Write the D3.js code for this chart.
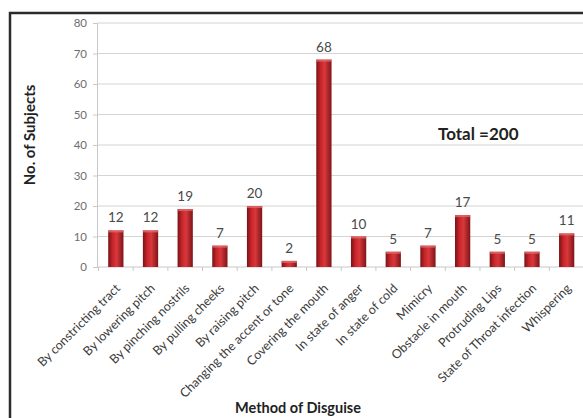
<!DOCTYPE html>
<html>
<head>
<meta charset="utf-8">
<script src="https://cdn.jsdelivr.net/npm/d3@7"></script>
<style>
  body { margin: 0; background: #fff; }
  text { font-family: Lato, "Open Sans", sans-serif; }
</style>
</head>
<body>
<svg id="chart" width="583" height="418"></svg>
<script>
// categories and counts
const methods = [
  "By constricting tract", "By lowering pitch", "By pinching nostrils",
  "By pulling cheeks", "By raising pitch", "Changing the accent or tone",
  "Covering the mouth", "In state of anger", "In state of cold", "Mimicry",
  "Obstacle in mouth", "Protruding Lips", "State of Throat infection", "Whispering"
];
const subjects = [12, 12, 19, 7, 20, 2, 68, 10, 5, 7, 17, 5, 5, 11];
const yTicks = [0, 10, 20, 30, 40, 50, 60, 70, 80];

const data = methods.map((m, i) => ({ method: m, value: subjects[i] }));

const svg = d3.select("#chart");

// outer frame
svg.append("rect")
  .attr("x", 10).attr("y", 13)
  .attr("width", 585).attr("height", 410)
  .attr("fill", "none")
  .attr("stroke", "#2b2b2b")
  .attr("stroke-width", 2.5);

// gradient for the cylinder-ish bars
const defs = svg.append("defs");
const grad = defs.append("linearGradient").attr("id", "barGrad")
  .attr("x1", "0%").attr("x2", "100%").attr("y1", "0%").attr("y2", "0%");
grad.append("stop").attr("offset", "0%").attr("stop-color", "#7a1216");
grad.append("stop").attr("offset", "30%").attr("stop-color", "#c8262c");
grad.append("stop").attr("offset", "55%").attr("stop-color", "#d8383c");
grad.append("stop").attr("offset", "100%").attr("stop-color", "#7e1418");

const x = d3.scaleBand()
  .domain(methods)
  .range([98.5, 584])
  .paddingInner(0.56)
  .paddingOuter(0.28);

const y = d3.scaleLinear()
  .domain([0, 80])
  .range([267, 23]);

// gridlines
svg.append("g")
  .selectAll("line")
  .data(yTicks.filter(t => t > 0))
  .enter().append("line")
  .attr("x1", 97).attr("x2", 584)
  .attr("y1", d => y(d)).attr("y2", d => y(d))
  .attr("stroke", "#d4d4d4")
  .attr("stroke-width", 1);

// y axis
const yAxis = d3.axisLeft(y).tickValues(yTicks).tickSize(4).tickPadding(6);
const gy = svg.append("g")
  .attr("transform", "translate(97,0)")
  .call(yAxis);
gy.select(".domain").attr("stroke", "#c8c8c8");
gy.selectAll(".tick line").attr("stroke", "#c8c8c8");
gy.selectAll(".tick text")
  .attr("fill", "#6e6e6e")
  .style("font-size", "11.5px");

// x axis: ticks sit between categories
const step = x.step();
const xStart = x.range()[0];
const boundaries = d3.range(methods.length + 1).map(i => xStart + i * step);

svg.append("line")
  .attr("x1", 97).attr("x2", 584)
  .attr("y1", y(0)).attr("y2", y(0))
  .attr("stroke", "#c8c8c8");

svg.append("g")
  .selectAll("line")
  .data(boundaries)
  .enter().append("line")
  .attr("x1", d => d).attr("x2", d => d)
  .attr("y1", y(0)).attr("y2", y(0) + 4)
  .attr("stroke", "#c8c8c8");

// bars
svg.selectAll(".bar")
  .data(data)
  .enter().append("rect")
  .attr("class", "bar")
  .attr("x", d => x(d.method))
  .attr("y", d => y(d.value))
  .attr("width", x.bandwidth())
  .attr("height", d => y(0) - y(d.value))
  .attr("fill", "url(#barGrad)");

// light cap on top of each bar
svg.selectAll(".cap")
  .data(data)
  .enter().append("rect")
  .attr("class", "cap")
  .attr("x", d => x(d.method))
  .attr("y", d => y(d.value))
  .attr("width", x.bandwidth())
  .attr("height", 2)
  .attr("fill", "#e26a6c")
  .attr("opacity", 0.8);

// value labels
svg.selectAll(".val")
  .data(data)
  .enter().append("text")
  .attr("class", "val")
  .attr("x", d => x(d.method) + x.bandwidth() / 2)
  .attr("y", d => y(d.value) - 8)
  .attr("text-anchor", "middle")
  .attr("fill", "#4a4a4a")
  .style("font-size", "13.5px")
  .text(d => d.value);

// category labels, rotated
svg.selectAll(".cat")
  .data(data)
  .enter().append("text")
  .attr("class", "cat")
  .attr("transform", d => `translate(${x(d.method) + x.bandwidth() / 2 + 2},286) rotate(-45)`)
  .attr("text-anchor", "end")
  .attr("dy", "0.35em")
  .attr("fill", "#3c3c3c")
  .style("font-size", "12.5px")
  .text(d => d.method);

// y axis title
svg.append("text")
  .attr("transform", "translate(35,135) rotate(-90)")
  .attr("text-anchor", "middle")
  .attr("font-weight", "bold")
  .attr("fill", "#222")
  .style("font-size", "15px")
  .text("No. of Subjects");

// x axis title
svg.append("text")
  .attr("x", 298)
  .attr("y", 413)
  .attr("text-anchor", "middle")
  .attr("font-weight", "bold")
  .attr("fill", "#222")
  .style("font-size", "14.5px")
  .text("Method of Disguise");

// annotation
svg.append("text")
  .attr("x", 438)
  .attr("y", 140)
  .attr("font-weight", "bold")
  .attr("fill", "#222")
  .style("font-size", "17px")
  .text("Total =200");
</script>
</body>
</html>
